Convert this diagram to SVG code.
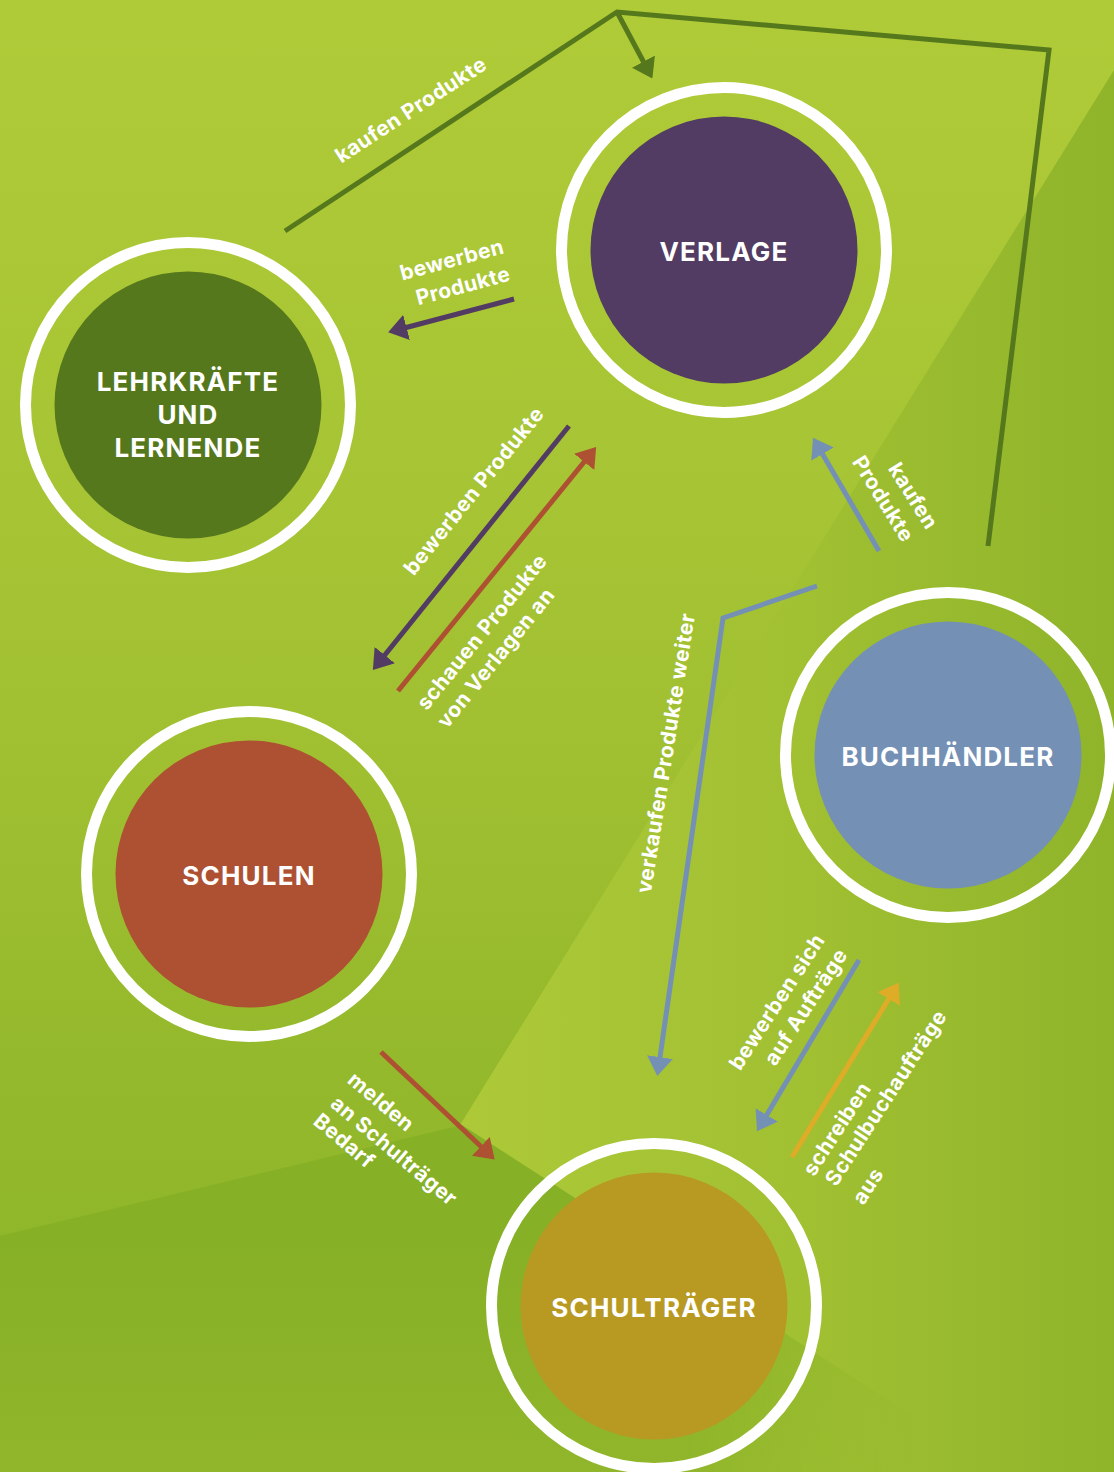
<svg xmlns="http://www.w3.org/2000/svg" width="1114" height="1472" viewBox="0 0 1114 1472">
<style>
.ring{fill:none;stroke:#fff;stroke-width:11}
.t{font-family:"Inter","Liberation Sans",sans-serif;fill:#fff;text-anchor:middle}
.n{font-size:26px;letter-spacing:1.2px;font-weight:700}
.l{font-size:21px;font-weight:700;letter-spacing:.45px}
.c{fill:none;stroke-width:5}
</style>
<defs>
<linearGradient id="bg" x1="0" y1="0" x2="0" y2="1"><stop offset="0" stop-color="#b0cb38"/><stop offset="0.475" stop-color="#a2c132"/><stop offset="0.75" stop-color="#93b82b"/><stop offset="1" stop-color="#8bb328"/></linearGradient>
<linearGradient id="rt" gradientUnits="userSpaceOnUse" x1="460" y1="0" x2="1114" y2="0"><stop offset="0" stop-color="#adc938"/><stop offset="0.52" stop-color="#a1c032"/><stop offset="1" stop-color="#8fb42a"/></linearGradient>
<linearGradient id="bv" gradientUnits="userSpaceOnUse" x1="0" y1="1240" x2="0" y2="1472"><stop offset="0" stop-color="#86b026"/><stop offset="1" stop-color="#91b62b"/></linearGradient>
<linearGradient id="fade" gradientUnits="userSpaceOnUse" x1="0" y1="0" x2="1114" y2="0"><stop offset="0.62" stop-color="#fff"/><stop offset="0.82" stop-color="#000"/></linearGradient>
<mask id="bm" maskUnits="userSpaceOnUse" x="0" y="1100" width="1114" height="372"><rect x="0" y="1100" width="1114" height="372" fill="url(#fade)"/></mask>
<marker id="ag" viewBox="0 0 19 26" refX="14" refY="13" markerWidth="19" markerHeight="26" markerUnits="userSpaceOnUse" orient="auto"><path d="M0 0L19 13L0 26Z" fill="#56781d"/></marker>
<marker id="ap" viewBox="0 0 19 26" refX="14" refY="13" markerWidth="19" markerHeight="26" markerUnits="userSpaceOnUse" orient="auto"><path d="M0 0L19 13L0 26Z" fill="#523c63"/></marker>
<marker id="ar" viewBox="0 0 19 26" refX="14" refY="13" markerWidth="19" markerHeight="26" markerUnits="userSpaceOnUse" orient="auto"><path d="M0 0L19 13L0 26Z" fill="#ad5132"/></marker>
<marker id="ab" viewBox="0 0 19 26" refX="14" refY="13" markerWidth="19" markerHeight="26" markerUnits="userSpaceOnUse" orient="auto"><path d="M0 0L19 13L0 26Z" fill="#7490b5"/></marker>
<marker id="ay" viewBox="0 0 19 26" refX="14" refY="13" markerWidth="19" markerHeight="26" markerUnits="userSpaceOnUse" orient="auto"><path d="M0 0L19 13L0 26Z" fill="#deac27"/></marker>
</defs>
<g id="background">
<rect width="1114" height="1472" fill="url(#bg)"/>
<polygon points="1114,70 460,1125 600,1472 1114,1472" fill="url(#rt)"/>
<polygon points="0,1236 462,1125 1000,1472 0,1472" fill="url(#bv)" mask="url(#bm)"/>
</g>
<g id="connectors">
<polyline class="c" stroke="#56781d" points="285,231 617,12 1049,50 988,546"/>
<line class="c" stroke="#56781d" x1="617" y1="12" x2="650" y2="74" marker-end="url(#ag)"/>
<line class="c" stroke="#523c63" x1="514" y1="299" x2="393" y2="331" marker-end="url(#ap)"/>
<line class="c" stroke="#523c63" x1="569" y1="426" x2="376" y2="666" marker-end="url(#ap)"/>
<line class="c" stroke="#ad5132" x1="398" y1="691" x2="593" y2="451" marker-end="url(#ar)"/>
<line class="c" stroke="#7490b5" x1="879" y1="551" x2="815.5" y2="442" marker-end="url(#ab)"/>
<polyline class="c" stroke="#7490b5" points="817,586 723,618 658,1071" marker-end="url(#ab)"/>
<line class="c" stroke="#7490b5" x1="859" y1="960" x2="759.6" y2="1127" marker-end="url(#ab)"/>
<line class="c" stroke="#deac27" x1="792" y1="1157" x2="896" y2="987" marker-end="url(#ay)"/>
<line class="c" stroke="#ad5132" x1="381" y1="1052" x2="491" y2="1156" marker-end="url(#ar)"/>
</g>
<g id="labels" class="t l">
<text transform="translate(411,110) rotate(-33)" y="7">kaufen Produkte</text>
<text transform="translate(452,260) rotate(-15)" y="7">bewerben</text>
<text transform="translate(463,286) rotate(-15)" y="7">Produkte</text>
<text transform="translate(474,491) rotate(-51)" y="7">bewerben Produkte</text>
<text transform="translate(482,632) rotate(-51)" y="7">schauen Produkte</text>
<text transform="translate(496,658) rotate(-51)" y="7">von Verlagen an</text>
<text transform="translate(913,496) rotate(58)" y="7">kaufen</text>
<text transform="translate(883,499) rotate(58)" y="7">Produkte</text>
<text transform="translate(666,753) rotate(-81)" y="7">verkaufen Produkte weiter</text>
<text transform="translate(777,1002) rotate(-57)" y="7">bewerben sich</text>
<text transform="translate(806,1007) rotate(-57)" y="7">auf Aufträge</text>
<text transform="translate(837,1129) rotate(-57)" y="7">schreiben</text>
<text transform="translate(886,1098) rotate(-57)" y="7">Schulbuchaufträge</text>
<text transform="translate(868,1186) rotate(-57)" y="7">aus</text>
<text transform="translate(381,1102) rotate(40)" y="7">melden</text>
<text transform="translate(394,1151) rotate(40)" y="7">an Schulträger</text>
<text transform="translate(344,1141) rotate(40)" y="7">Bedarf</text>
</g>
<g id="verlage"><circle class="ring" cx="724" cy="250" r="162.5"/><circle cx="724" cy="250" r="133.5" fill="#523c63"/><text class="t n" x="724" y="261">VERLAGE</text></g>
<g id="lehrkraefte"><circle class="ring" cx="188" cy="405" r="162.5"/><circle cx="188" cy="405" r="133.5" fill="#56781d"/><text class="t n" x="188" y="391">LEHRKRÄFTE</text><text class="t n" x="188" y="424">UND</text><text class="t n" x="188" y="457">LERNENDE</text></g>
<g id="buchhaendler"><circle class="ring" cx="948" cy="755" r="162.5"/><circle cx="948" cy="755" r="133.5" fill="#7490b5"/><text class="t n" x="948" y="766">BUCHHÄNDLER</text></g>
<g id="schulen"><circle class="ring" cx="249" cy="874" r="162.5"/><circle cx="249" cy="874" r="133.5" fill="#ad5132"/><text class="t n" x="249" y="885">SCHULEN</text></g>
<g id="schultraeger"><circle class="ring" cx="654" cy="1306" r="162.5"/><circle cx="654" cy="1306" r="133.5" fill="#b89a23"/><text class="t n" x="654" y="1317">SCHULTRÄGER</text></g>
</svg>
